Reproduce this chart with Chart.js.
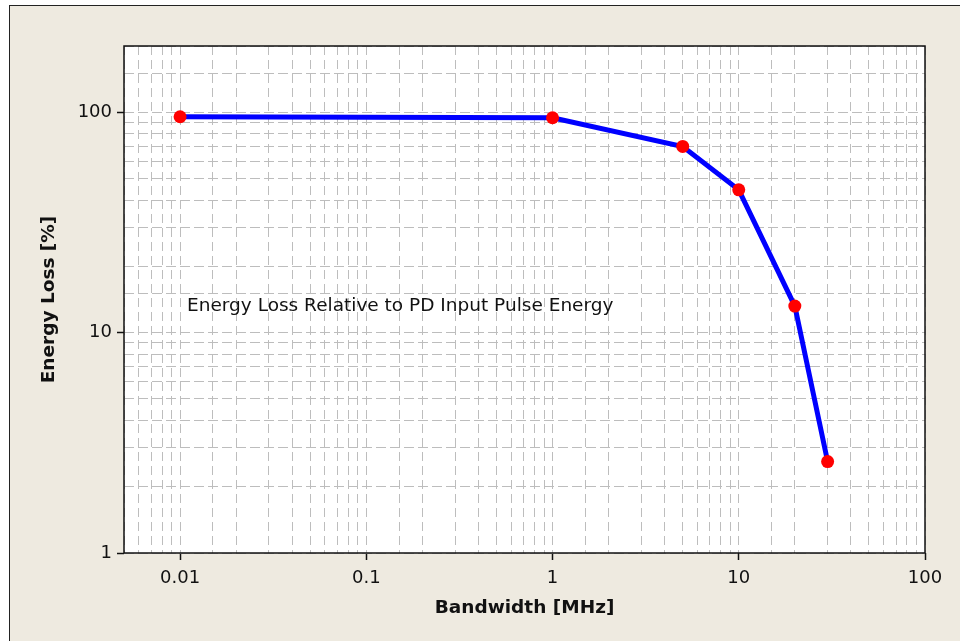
<!DOCTYPE html>
<html>
<head>
<meta charset="utf-8">
<script src="https://cdn.jsdelivr.net/npm/chart.js@4/dist/chart.umd.min.js"></script>
<style>
  html, body { margin: 0; padding: 0; background: #ffffff; }
  #frame {
    position: absolute; left: 9px; top: 5px; width: 960px; height: 650px;
    background: #eeeae0; border-left: 1px solid #222; border-top: 1px solid #222;
  }
  #wrap { position: absolute; left: 0; top: 0; width: 960px; height: 641px; }
</style>
</head>
<body>
<div id="frame"></div>
<div id="wrap"><canvas id="lossChart"></canvas></div>
<script>
// bandwidth in MHz vs energy loss in %
const bandwidths = [0.01, 1, 5, 10, 20, 30];
const energyLoss = [95.5, 94.5, 70, 44.5, 13.2, 2.6];
const xTickLabels = [0.01, 0.1, 1, 10, 100];
const yTickLabels = [1, 10, 100];
const noteText = 'Energy Loss Relative to PD Input Pulse Energy';

const FONT = "'DejaVu Sans', sans-serif";

const isMajor = (v, list) => list.some(t => Math.abs(v - t) / t < 1e-6);

// white plot background, black frame, annotation text
const plotDecor = {
    id: 'plotDecor',
    beforeDraw(chart) {
        const { ctx, chartArea: a } = chart;
        ctx.save();
        ctx.fillStyle = '#ffffff';
        ctx.fillRect(a.left, a.top, a.right - a.left, a.bottom - a.top);
        ctx.restore();
    },
    afterDatasetsDraw(chart) {
        const { ctx, chartArea: a } = chart;
        ctx.save();
        ctx.strokeStyle = '#111';
        ctx.lineWidth = 1.5;
        ctx.strokeRect(a.left, a.top, a.right - a.left, a.bottom - a.top);
        ctx.fillStyle = '#111';
        ctx.font = '18.5px ' + FONT;
        ctx.textBaseline = 'middle';
        ctx.fillText(noteText, a.left + 63, a.top + 260);
        ctx.restore();
    }
};

new Chart(document.getElementById('lossChart').getContext('2d'), {
    type: 'line',
    data: {
        datasets: [{
            data: bandwidths.map((b, i) => ({ x: b, y: energyLoss[i] })),
            borderColor: '#0000ff',
            borderWidth: 5,
            pointBackgroundColor: '#ff0000',
            pointBorderColor: '#ff0000',
            pointRadius: 6.5,
            pointBorderWidth: 0,
            tension: 0
        }]
    },
    options: {
        responsive: true,
        maintainAspectRatio: false,
        animation: false,
        layout: { padding: { top: 46, right: 35, left: 34, bottom: 18 } },
        plugins: { legend: { display: false }, tooltip: { enabled: false } },
        scales: {
            x: {
                type: 'logarithmic',
                min: 0.005,
                max: 100,
                afterFit: s => { s.height = 70; },
                grid: {
                    color: '#bdbdbd',
                    lineWidth: 1,
                    tickLength: 7,
                    tickWidth: 1.5,
                    tickColor: c => (c.tick && isMajor(c.tick.value, xTickLabels)) ? '#111' : 'rgba(0,0,0,0)'
                },
                border: { display: false, dash: [9, 5] },
                ticks: {
                    autoSkip: false,
                    maxRotation: 0,
                    padding: 8,
                    color: '#111',
                    font: { family: FONT, size: 18 },
                    callback: v => isMajor(v, xTickLabels) ? String(v) : ''
                },
                title: {
                    display: true,
                    text: 'Bandwidth [MHz]',
                    color: '#111',
                    font: { family: FONT, size: 18.5, weight: 'bold' }
                }
            },
            y: {
                type: 'logarithmic',
                min: 1,
                max: 200,
                afterFit: s => { s.width = 90; },
                grid: {
                    color: '#bdbdbd',
                    lineWidth: 1,
                    tickLength: 7,
                    tickWidth: 1.5,
                    tickColor: c => (c.tick && isMajor(c.tick.value, yTickLabels)) ? '#111' : 'rgba(0,0,0,0)'
                },
                border: { display: false, dash: [10, 4] },
                ticks: {
                    autoSkip: false,
                    padding: 5,
                    color: '#111',
                    font: { family: FONT, size: 18 },
                    callback: v => isMajor(v, yTickLabels) ? String(v) : ''
                },
                title: {
                    display: true,
                    text: 'Energy Loss [%]',
                    color: '#111',
                    font: { family: FONT, size: 18.5, weight: 'bold' }
                }
            }
        }
    },
    plugins: [plotDecor]
});
</script>
</body>
</html>
